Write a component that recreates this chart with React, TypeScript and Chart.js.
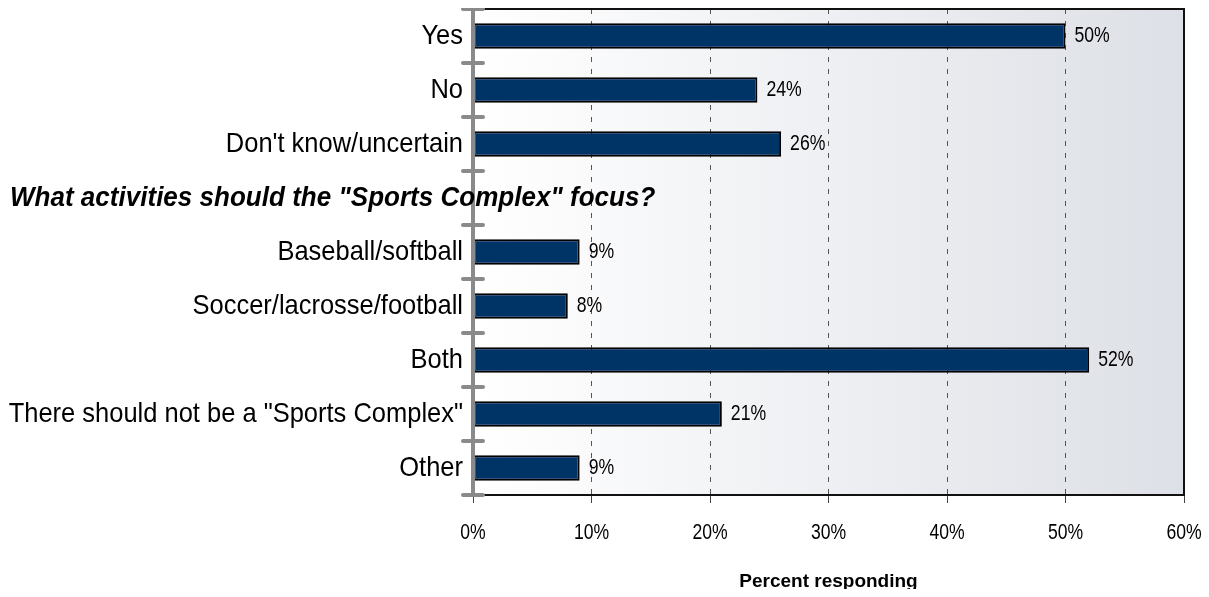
import React, { useEffect, useRef } from "react";
import { Chart, registerables } from "chart.js";

Chart.register(...registerables);

const categories = [
  "Yes",
  "No",
  "Don't know/uncertain",
  'What activities should the "Sports Complex" focus?',
  "Baseball/softball",
  "Soccer/lacrosse/football",
  "Both",
  'There should not be a "Sports Complex"',
  "Other",
];
const HEADING_INDEX = 3;
const values: (number | null)[] = [50, 24, 26, null, 9, 8, 52, 21, 9];
const xTicks = [0, 10, 20, 30, 40, 50, 60];
const axisTitle = "Percent responding";

const FONT = "'Liberation Sans', Arial, sans-serif";

function condensedText(
  ctx: CanvasRenderingContext2D,
  text: string,
  x: number,
  y: number,
  font: string,
  sx: number,
  align: CanvasTextAlign
) {
  ctx.save();
  ctx.translate(x, y);
  ctx.scale(sx, 1);
  ctx.font = font;
  ctx.textAlign = align;
  ctx.textBaseline = "middle";
  ctx.fillStyle = "#000";
  ctx.fillText(text, 0, 0);
  ctx.restore();
}

const decorPlugin = {
  id: "decor",
  beforeDraw(chart: any) {
    const { ctx, chartArea: a } = chart;
    const g = ctx.createLinearGradient(a.left, 0, a.right, 0);
    g.addColorStop(0, "#ffffff");
    g.addColorStop(1, "#dde0e6");
    ctx.save();
    ctx.fillStyle = g;
    ctx.fillRect(a.left, a.top, a.right - a.left, a.bottom - a.top);
    ctx.restore();
  },
  afterDatasetsDraw(chart: any) {
    const { ctx, chartArea: a } = chart;
    const y = chart.scales.y;
    const x = chart.scales.x;
    ctx.save();
    // frame
    ctx.strokeStyle = "#111";
    ctx.lineWidth = 2;
    ctx.beginPath();
    ctx.moveTo(a.left, a.top);
    ctx.lineTo(a.right, a.top);
    ctx.lineTo(a.right, a.bottom);
    ctx.lineTo(a.left, a.bottom);
    ctx.stroke();
    // data labels
    const meta = chart.getDatasetMeta(0);
    meta.data.forEach((el: any, i: number) => {
      const v = values[i];
      if (v == null) return;
      condensedText(ctx, `${v}%`, el.x + 9, el.y, `21.5px ${FONT}`, 0.82, "left");
    });
    // x tick labels
    xTicks.forEach((v) => {
      condensedText(ctx, `${v}%`, x.getPixelForValue(v), a.bottom + 38, `22px ${FONT}`, 0.8, "center");
    });
    // y axis line with ticks
    ctx.strokeStyle = "#8a8a8a";
    ctx.lineWidth = 4;
    ctx.lineCap = "round";
    ctx.beginPath();
    ctx.moveTo(a.left, a.top);
    ctx.lineTo(a.left, a.bottom);
    ctx.stroke();
    for (let i = 0; i <= categories.length; i++) {
      const py = y.getPixelForValue(i - 0.5);
      ctx.beginPath();
      ctx.moveTo(a.left - 10, py);
      ctx.lineTo(a.left + 10, py);
      ctx.stroke();
    }
    ctx.restore();
  },
  afterDraw(chart: any) {
    const { ctx, chartArea: a } = chart;
    const y = chart.scales.y;
    categories.forEach((c, i) => {
      const py = y.getPixelForValue(i);
      if (i === HEADING_INDEX) {
        condensedText(ctx, c, 2, py, `italic bold 28px ${FONT}`, 0.93, "left");
      } else {
        condensedText(ctx, c, a.left - 10, py, `28px ${FONT}`, 0.91, "right");
      }
    });
  },
};

export default function App() {
  const ref = useRef<HTMLCanvasElement | null>(null);
  useEffect(() => {
    if (!ref.current) return;
    const chart = new Chart(ref.current, {
      type: "bar",
      data: {
        labels: categories,
        datasets: [
          {
            data: values,
            backgroundColor: "#003366",
            borderColor: "#000",
            borderWidth: 2,
            borderSkipped: false,
            barPercentage: 0.47,
            categoryPercentage: 1,
          },
        ],
      },
      options: {
        indexAxis: "y",
        animation: false,
        responsive: true,
        maintainAspectRatio: false,
        layout: { padding: { top: 1, right: 17, left: 0, bottom: 0 } },
        plugins: { legend: { display: false }, tooltip: { enabled: false } },
        scales: {
          x: {
            type: "linear",
            min: 0,
            max: 60,
            afterBuildTicks: (s: any) => {
              s.ticks = xTicks.map((v) => ({ value: v }));
            },
            afterFit: (s: any) => {
              s.height = 102;
              s.paddingLeft = 0;
              s.paddingRight = 0;
            },
            ticks: { display: false },
            grid: {
              color: (c: any) =>
                c.tick && (c.tick.value === 0 || c.tick.value === 60) ? "rgba(0,0,0,0)" : "#555",
              lineWidth: 1,
              drawTicks: true,
              tickLength: 8,
              tickColor: "#444",
              tickWidth: 1,
              tickBorderDash: [],
            },
            border: { display: false, dash: [5, 7] },
            title: {
              display: true,
              text: axisTitle,
              color: "#000",
              font: { family: FONT, size: 19, weight: "bold" },
              padding: { top: 0, bottom: 4 },
            },
          },
          y: {
            type: "category",
            afterFit: (s: any) => {
              s.width = 465;
              s.paddingTop = 0;
              s.paddingBottom = 0;
            },
            ticks: { display: false, autoSkip: false },
            grid: { display: false },
            border: { display: false },
          },
        },
      },
      plugins: [decorPlugin],
    });
    return () => chart.destroy();
  }, []);
  return (
    <div style={{ position: "relative", width: 1193, height: 589, marginBottom: -8 }}>
      <canvas ref={ref} />
    </div>
  );
}
